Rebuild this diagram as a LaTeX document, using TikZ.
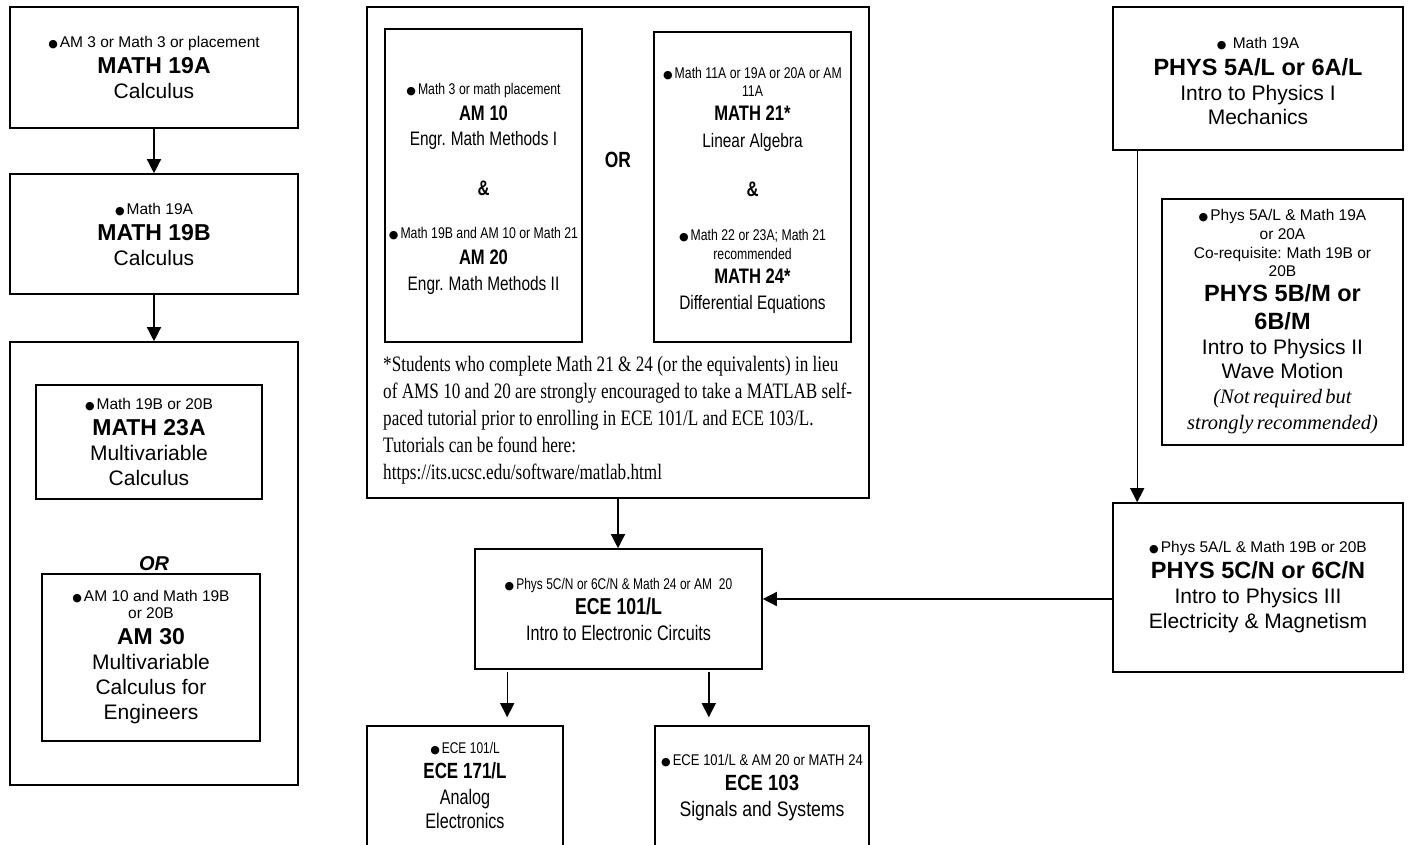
\documentclass[tikz,border=0pt]{standalone}
\usepackage{fontspec}
\setmainfont{Liberation Sans}
\newfontfamily\nA[FakeStretch=0.79]{Liberation Sans}
\newfontfamily\nB[FakeStretch=0.77]{Liberation Sans}
\newfontfamily\nC[FakeStretch=0.84]{Liberation Sans}
\newfontfamily\gar[FakeStretch=0.78]{Liberation Serif}
\newfontfamily\garit{Liberation Serif}
\newfontfamily\symf{DejaVu Sans}
\usetikzlibrary{arrows.meta}
\newcommand{\blt}{{\symf\fontsize{11}{11}\selectfont ●}\hspace{2pt}}
\newcommand{\fs}[2]{\fontsize{#1}{#2}\selectfont}
\newcommand{\ws}{\spaceskip=0.278em\relax}
\newcommand{\Sm}[1][17]{\fontsize{15.5}{#1}\selectfont\ws}
\newcommand{\Tt}[1][26]{\fontsize{23}{#1}\selectfont\bfseries\ws}
\newcommand{\Tb}[1][26]{\fontsize{23.5}{#1}\selectfont\bfseries\ws}
\newcommand{\Ds}[1][25]{\fontsize{21}{#1}\selectfont\ws}
% narrow families: regular / bold, size, skip
\newcommand{\nAr}[2]{\nA\fontsize{#1}{#2}\selectfont\spaceskip=0.225em\relax}
\newcommand{\nAb}[2]{\nA\bfseries\fontsize{#1}{#2}\selectfont\spaceskip=0.225em\relax}
\newcommand{\nBr}[2]{\nB\fontsize{#1}{#2}\selectfont\spaceskip=0.225em\relax}
\newcommand{\nBb}[2]{\nB\bfseries\fontsize{#1}{#2}\selectfont\spaceskip=0.225em\relax}
\newcommand{\nCr}[2]{\nC\fontsize{#1}{#2}\selectfont\spaceskip=0.24em\relax}
\newcommand{\nCb}[2]{\nC\bfseries\fontsize{#1}{#2}\selectfont\spaceskip=0.24em\relax}
\newcommand{\Ln}[2]{{#1\makebox[0pt]{#2}\par}}
\newcommand{\up}[1]{\rule{0pt}{#1pt}}
\begin{document}
\begin{tikzpicture}[x=1pt,y=-1pt,
  box/.style={draw,line width=1.6pt,inner sep=0pt,align=center},
  txt/.style={inner sep=0pt,align=center},
  arr/.style={line width=1.4pt,-{Triangle[width=14pt,length=14pt]}}]
\useasboundingbox (0,0) rectangle (1408,845);
\clip (0,0) rectangle (1408,845);
% ---------- left column
\node[box, minimum width=288, minimum height=121, text width=284] (m19a) at (154,67.5)
  {\Ln{\Sm}{\blt AM 3 or Math 3 or placement}\Ln{\Tt}{MATH 19A}\Ln{\Ds}{Calculus}};
\node[box, minimum width=288, minimum height=120, text width=284] (m19b) at (154,234)
  {\Ln{\Sm}{\blt Math 19A}\Ln{\Tt}{MATH 19B}\Ln{\Ds}{Calculus}};
\node[box, minimum width=288, minimum height=443] (lout) at (154,563.5) {};
\node[box, minimum width=226, minimum height=114, text width=222] (m23a) at (149,442)
  {\Ln{\Sm}{\blt Math 19B or 20B}\Ln{\Tt}{MATH 23A}\Ln{\Ds}{Multivariable}\Ln{\Ds}{Calculus}};
\node[txt, font=\fs{20}{20}\bfseries\itshape] (orl) at (154,564) {OR};
\node[box, minimum width=218, minimum height=167, text width=214] (am30) at (151,657.5)
  {\Ln{\Sm}{\blt AM 10 and Math 19B}\Ln{\Sm}{or 20B}\Ln{\Tt}{AM 30}%
   \Ln{\Ds}{Multivariable}\Ln{\Ds}{Calculus for}\Ln{\Ds}{Engineers}};
\draw[arr] (m19a) -- (m19b);
\draw[arr] (m19b) -- (lout);
% ---------- middle panel
\node[box, minimum width=502, minimum height=491] (mid) at (618,252.5) {};
\node[box, minimum width=197, minimum height=313, text width=195] (am) at (483.5,185.5)
  {\Ln{\nAr{15.5}{17}}{\up{18.3}\blt Math 3 or math placement}%
   \Ln{\nAb{21}{26}}{AM 10}%
   \Ln{\nAr{19.5}{24.5}}{Engr. Math Methods I}%
   \Ln{\nAb{21}{50.5}}{\&}%
   \Ln{\nAr{15.5}{43}}{\blt Math 19B and AM 10 or Math 21}%
   \Ln{\nAb{21}{26}}{AM 20}%
   \Ln{\nAr{19.5}{25.4}}{Engr. Math Methods II}};
\node[txt, font=\nAb{22}{22}] (orm) at (618,160) {OR};
\node[box, minimum width=197, minimum height=310, text width=195] (mth) at (752.5,187)
  {\Ln{\nAr{15.5}{18}}{\up{17.3}\blt Math 11A or 19A or 20A or AM}%
   \Ln{\nAr{15.5}{18}}{11A}%
   \Ln{\nAb{21}{24.6}}{MATH 21*}%
   \Ln{\nAr{19.5}{26.4}}{Linear Algebra}%
   \Ln{\nAb{21}{49.5}}{\&}%
   \Ln{\nAr{15.5}{44}}{\blt Math 22 or 23A; Math 21}%
   \Ln{\nAr{15.5}{19}}{recommended}%
   \Ln{\nAb{21}{24.1}}{MATH 24*}%
   \Ln{\nAr{19.5}{25.4}}{Differential Equations}};
\node[anchor=north west, inner sep=0pt, align=left, font=\gar\fs{22}{27}] (note) at (383,356)
  {*Students who complete Math 21 \& 24 (or the equivalents) in lieu\\
   of AMS 10 and 20 are strongly encouraged to take a MATLAB self-\\
   paced tutorial prior to enrolling in ECE 101/L and ECE 103/L.\\
   Tutorials can be found here:\\
   https://its.ucsc.edu/software/matlab.html};
% ---------- ECE boxes
\node[box, minimum width=287, minimum height=120, text width=283] (ece101) at (618.5,609)
  {\Ln{\nBr{15.5}{17}}{\blt Phys 5C/N or 6C/N \& Math 24 or AM\ \ 20}%
   \Ln{\nBb{23}{25.5}}{ECE 101/L}%
   \Ln{\nBr{21}{25.5}}{Intro to Electronic Circuits}};
\node[box, minimum width=196, minimum height=200] (e171) at (465,826) {};
\node[txt, text width=190] (e171t) at (465,785)
  {\Ln{\nBr{15.5}{17}}{\blt ECE 101/L}%
   \Ln{\nBb{22}{25.5}}{ECE 171/L}%
   \Ln{\nBr{21}{25.5}}{Analog}%
   \Ln{\nBr{21}{24}}{Electronics}};
\node[box, minimum width=214, minimum height=200] (e103) at (762,826) {};
\node[txt, text width=210] (e103t) at (762,787.5)
  {\Ln{\nCr{15.5}{17}}{\blt ECE 101/L \& AM 20 or MATH 24}%
   \Ln{\nCb{22}{25.5}}{ECE 103}%
   \Ln{\nCr{21}{25.5}}{Signals and Systems}};
% ---------- right column
\node[box, minimum width=290, minimum height=143, text width=286] (p5a) at (1258,78.5)
  {\Ln{\Sm}{\up{16.3}\blt\ Math 19A}\Ln{\Tb[26.8]}{PHYS 5A/L or 6A/L}%
   \Ln{\Ds}{Intro to Physics I}\Ln{\Ds[24]}{Mechanics}};
\node[box, minimum width=241, minimum height=246, text width=237] (p5b) at (1282.5,322)
  {\Ln{\Sm[18.7]}{\blt Phys 5A/L \& Math 19A}\Ln{\Sm[18.7]}{or 20A}%
   \Ln{\Sm[18.7]}{Co-requisite: Math 19B or}\Ln{\Sm[18.7]}{20B}%
   \Ln{\Tb[25]}{PHYS 5B/M or}\Ln{\Tb[28]}{6B/M}%
   \Ln{\Ds}{Intro to Physics II}\Ln{\Ds[24]}{Wave Motion}%
   \Ln{\garit\itshape\fs{20.5}{25}}{(Not required but}%
   \Ln{\garit\itshape\fs{20.5}{26}}{strongly recommended)}};
\node[box, minimum width=290, minimum height=169, text width=286] (p5c) at (1258,587.5)
  {\Ln{\Sm}{\blt Phys 5A/L \& Math 19B or 20B}\Ln{\Tb}{PHYS 5C/N or 6C/N}%
   \Ln{\Ds}{Intro to Physics III}\Ln{\Ds}{Electricity \& Magnetism}};
% ---------- connectors
\draw[arr] (mid.south) -- (mid.south |- ece101.north);
\coordinate (pa) at ([xshift=25pt]p5a.south west);
\draw[arr] (pa) -- (pa |- p5c.north);
\coordinate (j) at ([yshift=10pt]ece101.east);
\draw[arr] (j -| p5c.west) -- (j);
\coordinate (d1) at ([xshift=33pt]ece101.south west);
\draw[arr, shorten <=2pt, shorten >=8pt] (d1) -- (d1 |- e171.north);
\coordinate (d2) at ([xshift=-54pt]ece101.south east);
\draw[arr, shorten <=2pt, shorten >=8pt] (d2) -- (d2 |- e103.north);
\end{tikzpicture}
\end{document}
